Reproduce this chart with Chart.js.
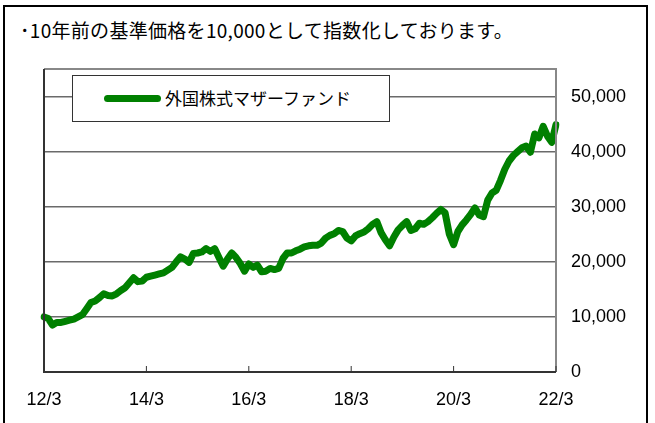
<!DOCTYPE html>
<html>
<head>
<meta charset="utf-8">
<script src="https://cdn.jsdelivr.net/npm/chart.js@4"></script>
<style>
    body { margin: 0; width: 655px; height: 423px; position: relative; background: #fff; overflow: hidden; }
    #frame { position: absolute; left: 3px; top: 5px; width: 641px; height: 430px; border: 2px solid #000; }
    #note { position: absolute; left: 20px; top: 17px; font: 19px "Noto Sans CJK JP"; letter-spacing: 0.3px; line-height: 26px; color: #000; white-space: nowrap; }
    #wrap { position: absolute; left: 0; top: 0; width: 655px; height: 423px; }
    #legend { position: absolute; left: 72px; top: 75px; width: 316px; height: 45px; border: 1px solid #333; background: #fff; }
    #legend .swatch { position: absolute; left: 31px; top: 19px; width: 57px; height: 7px; border-radius: 4px; }
    #legend .text { position: absolute; left: 92px; top: 10px; font: 17px "Noto Sans CJK JP"; line-height: 24px; color: #000; white-space: nowrap; }
</style>
</head>
<body>
<div id="frame"></div>
<div id="note">･10年前の基準価格を10,000として指数化しております。</div>
<div id="wrap"><canvas id="myChart" width="655" height="423"></canvas></div>
<div id="legend"><span class="swatch"></span><span class="text"></span></div>
<script>
const seriesLabel = '外国株式マザーファンド';
const lineColor = '#008000';

// 12/3 .. 22/3, monthly
const startYear = 12;
const startMonth = 3;
const monthCount = 121;

const tickLabels = ['12/3', '14/3', '16/3', '18/3', '20/3', '22/3'];
const yTicks = [0, 10000, 20000, 30000, 40000, 50000];

// index values (10 years ago = 10,000)
const values = [
    10000, 9700, 8500, 9000, 9000, 9200, 9400, 9600, 10000, 10400, 11500, 12600,
    12900, 13500, 14200, 13900, 13800, 14200, 14800, 15300, 16200, 17100, 16400, 16500,
    17200, 17400, 17600, 17800, 18000, 18500, 19000, 20000, 20900, 20500, 19900, 21500,
    21600, 21800, 22400, 21900, 22400, 20800, 19200, 20500, 21600, 20800, 19700, 18300,
    19600, 19000, 19400, 18200, 18300, 18800, 18600, 18800, 20600, 21600, 21600, 22000,
    22300, 22700, 22900, 23000, 23000, 23400, 24300, 24800, 25100, 25700, 25500, 24300,
    23800, 24700, 25100, 25400, 26000, 26800, 27300, 25300, 24000, 22900, 24500, 25800,
    26600, 27300, 25700, 26000, 27000, 26800, 27300, 28000, 28800, 29500, 28900, 25000,
    23100, 25500, 26700, 27600, 28600, 29800, 28500, 28200, 31200, 32500, 33000, 34800,
    36800, 38300, 39300, 40000, 40700, 41000, 39900, 43200, 42500, 44600, 42800, 41700,
    44900
];

const yMin = 0;
const yMax = 55000;

const labels = [];
for (let i = 0; i < monthCount; i++) {
    const m = startMonth - 1 + i;
    const yy = startYear + Math.floor(m / 12);
    labels.push(yy + '/' + (m % 12 + 1));
}

document.querySelector('#legend .swatch').style.background = lineColor;
document.querySelector('#legend .text').textContent = seriesLabel;

// frame around the plot area + inward tick marks on the x axis
const plotFrame = {
    id: 'plotFrame',
    afterDraw(chart) {
        const { ctx, chartArea: a } = chart;
        const x = chart.scales.x;
        ctx.save();
        ctx.strokeStyle = '#888';
        ctx.lineWidth = 2;
        ctx.beginPath();
        ctx.moveTo(a.left, a.top);
        ctx.lineTo(a.right, a.top);
        ctx.lineTo(a.right, a.bottom);
        ctx.stroke();
        ctx.strokeStyle = '#333';
        ctx.beginPath();
        ctx.moveTo(a.left, a.top);
        ctx.lineTo(a.left, a.bottom);
        ctx.lineTo(a.right, a.bottom);
        ctx.stroke();
        ctx.lineWidth = 1;
        x.ticks.forEach((t, i) => {
            const px = x.getPixelForTick(i);
            ctx.beginPath();
            ctx.moveTo(px, a.bottom);
            ctx.lineTo(px, a.bottom - 6);
            ctx.stroke();
        });
        ctx.restore();
    }
};

const ctx = document.getElementById('myChart').getContext('2d');
const myChart = new Chart(ctx, {
    type: 'line',
    data: {
        labels: labels,
        datasets: [
            {
                label: seriesLabel,
                data: values,
                borderColor: lineColor,
                backgroundColor: lineColor,
                borderWidth: 7,
                borderJoinStyle: 'round',
                borderCapStyle: 'round',
                pointRadius: 0,
                tension: 0,
                fill: false
            }
        ]
    },
    options: {
        responsive: false,
        animation: false,
        layout: {
            padding: { left: 44, top: 69, right: 0, bottom: 0 }
        },
        scales: {
            x: {
                offset: false,
                grid: { display: false, drawTicks: false },
                border: { display: false },
                afterFit: (s) => { s.height = 51; },
                afterBuildTicks: (s) => {
                    s.ticks = s.ticks.filter(t => tickLabels.includes(labels[t.value]));
                },
                ticks: {
                    autoSkip: false,
                    maxRotation: 0,
                    padding: 17,
                    color: '#000',
                    font: { family: 'Liberation Sans', size: 18 },
                    callback: (v) => labels[v]
                }
            },
            y: {
                position: 'right',
                min: yMin,
                max: yMax,
                afterFit: (s) => { s.width = 99; },
                afterBuildTicks: (s) => {
                    s.ticks = yTicks.map(v => ({ value: v }));
                },
                grid: {
                    drawTicks: false,
                    color: '#6a6a6a',
                    lineWidth: (c) => (c.tick && c.tick.value > 0) ? 1.5 : 0
                },
                border: { display: false },
                ticks: {
                    autoSkip: false,
                    padding: 15,
                    color: '#000',
                    font: { family: 'Liberation Sans', size: 18 },
                    callback: (v) => Number(v).toLocaleString('en-US')
                }
            }
        },
        plugins: {
            legend: { display: false },
            tooltip: { enabled: false }
        }
    },
    plugins: [plotFrame]
});
</script>
</body>
</html>
